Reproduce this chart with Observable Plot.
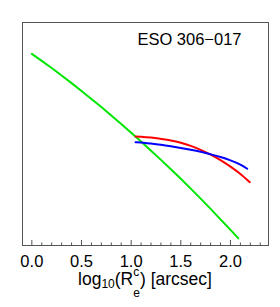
<!DOCTYPE html>
<html><head><meta charset="utf-8">
<script src="https://cdn.jsdelivr.net/npm/d3@7"></script>
<script src="https://cdn.jsdelivr.net/npm/@observablehq/plot@0.6"></script>
<style>body{margin:0;background:#fff}</style>
</head><body><div id="chart"></div>
<script>
const title = "ESO 306\u2212017";
const majorTicks = [0, 0.5, 1.0, 1.5, 2.0];
const minorTicks = [0.1,0.2,0.3,0.4,0.6,0.7,0.8,0.9,1.1,1.2,1.3,1.4,1.6,1.7,1.8,1.9,2.1,2.2,2.3];

const greenX = [0,0.1,0.2,0.3,0.4,0.5,0.6,0.7,0.8,0.9,1.0,1.1,1.2,1.3,1.4,1.5,1.6,1.7,1.8,1.9,2.0,2.08];
const greenY = [8.59,8.28,7.96,7.62,7.28,6.93,6.57,6.21,5.83,5.45,5.06,4.66,4.25,3.84,3.42,2.99,2.55,2.10,1.64,1.17,0.70,0.32];

const redX = [1.044,1.1,1.2,1.3,1.4,1.5,1.6,1.7,1.8,1.9,2.0,2.1,2.195];
const redY = [4.89,4.88,4.84,4.78,4.71,4.61,4.47,4.29,4.08,3.83,3.54,3.21,2.84];

const blueX = [1.044,1.1,1.2,1.3,1.4,1.5,1.6,1.7,1.8,1.9,2.0,2.1,2.169];
const blueY = [4.63,4.62,4.57,4.52,4.45,4.37,4.29,4.20,4.09,3.97,3.82,3.63,3.44];

const toRows = (xs, ys) => xs.map((x, i) => ({x, y: ys[i]}));
const green = toRows(greenX, greenY);
const red = toRows(redX, redY);
const blue = toRows(blueX, blueY);

const H = 307, mT = 22, mB = 62;
const innerH = H - mT - mB;
const axisColor = "#555";
const font = "'Liberation Sans', Arial, Helvetica, sans-serif";

const plot = Plot.plot({
  width: 280, height: H,
  marginLeft: 22, marginRight: 12, marginTop: mT, marginBottom: mB,
  x: {domain: [-0.094, 2.383]},
  y: {domain: [0, 10], axis: null},
  style: {fontFamily: font, background: "white", color: "black"},
  marks: [
    Plot.ruleX(minorTicks, {insetTop: innerH - 2.5, stroke: axisColor}),
    Plot.ruleX(majorTicks, {insetTop: innerH - 5, stroke: axisColor}),
    Plot.axisX(majorTicks, {tickSize: 0, tickPadding: 10, fontSize: 16.5, tickFormat: d => d.toFixed(1), label: null, fill: "black"}),
    Plot.line(green, {x: "x", y: "y", stroke: "#00e600", strokeWidth: 2}),
    Plot.line(red, {x: "x", y: "y", stroke: "#ff0000", strokeWidth: 2, curve: "natural"}),
    Plot.line(blue, {x: "x", y: "y", stroke: "#0000ff", strokeWidth: 2, curve: "natural"}),
    Plot.frame({stroke: axisColor}),
    Plot.text([title], {frameAnchor: "top-right", dx: -27, dy: 10.5, textAnchor: "end", lineAnchor: "top", fontSize: 16.5, fill: "black"})
  ]
});

const svg = d3.select(plot);
const t = svg.append("text")
  .attr("x", 145).attr("y", 284.5)
  .attr("text-anchor", "middle")
  .attr("font-size", 17.5)
  .attr("fill", "black")
  .attr("font-family", font);
t.append("tspan").text("log");
t.append("tspan").attr("font-size", 12).attr("dy", 3).text("10");
t.append("tspan").attr("dy", -3).text("(R");
t.append("tspan").attr("font-size", 12).attr("dy", -9).text("c");
t.append("tspan").attr("font-size", 12).attr("dx", -6).attr("dy", 21).text("e");
t.append("tspan").attr("dy", -12).text(") [arcsec]");

document.getElementById("chart").appendChild(plot);
</script>
</body></html>
